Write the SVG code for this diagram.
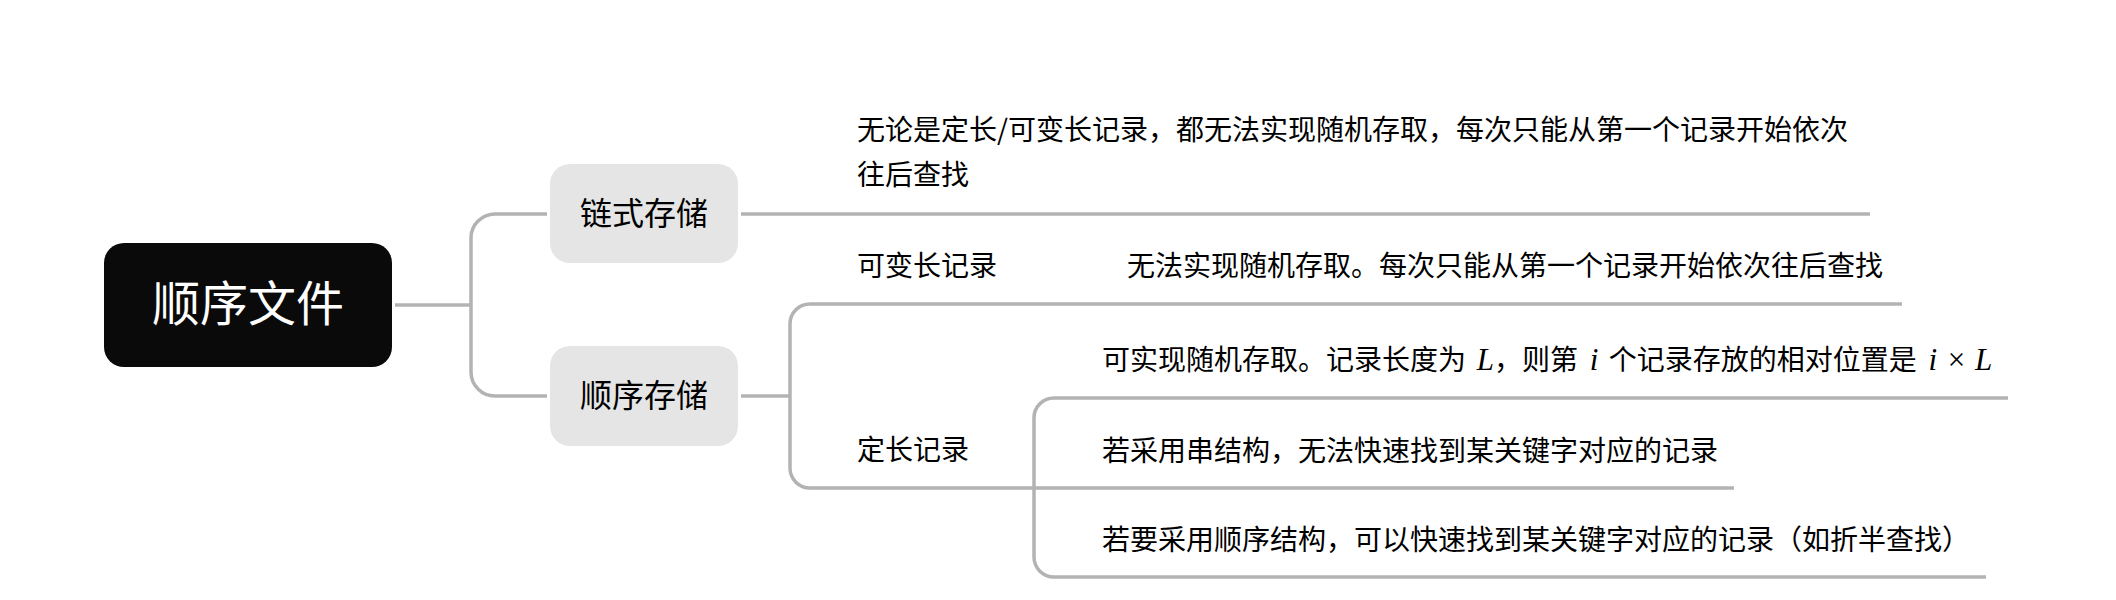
<svg xmlns="http://www.w3.org/2000/svg" width="2116" height="600" viewBox="0 0 2116 600">
<style>
.conn{fill:none;stroke:#b3b3b3;stroke-width:3.5}
.t{font-family:"Noto Sans CJK SC","Noto Sans",sans-serif;font-size:28px;fill:#000}
.m{font-family:"Liberation Serif",serif;font-style:italic;font-size:31px}
.mr{font-family:"Liberation Serif",serif;font-size:31px}
.sub{fill:#e5e5e5}
.subt{font-family:"Noto Sans CJK SC","Noto Sans",sans-serif;font-size:32px;fill:#000;text-anchor:middle}
</style>
<rect width="2116" height="600" fill="#ffffff"/>
<g id="connectors">
<path class="conn" d="M395,305 H471"/>
<path class="conn" d="M547,214 H495 A24,24 0 0 0 471,238 V372 A24,24 0 0 0 495,396 H547"/>
<path class="conn" d="M741,214 H1870"/>
<path class="conn" d="M741,396 H790"/>
<path class="conn" d="M1902,304 H810 A20,20 0 0 0 790,324 V468 A20,20 0 0 0 810,488 H1734"/>
<path class="conn" d="M2008,398 H1054 A20,20 0 0 0 1034,418 V557 A20,20 0 0 0 1054,577 H1986"/>
</g>
<g id="root">
<rect x="104" y="243" width="288" height="124" rx="20" fill="#0a0a0a"/>
<text x="248" y="321" font-family="'Noto Sans CJK SC','Noto Sans',sans-serif" font-size="48" fill="#ffffff" text-anchor="middle">顺序文件</text>
</g>
<g id="chain">
<rect class="sub" x="550" y="164" width="188" height="99" rx="20"/>
<text class="subt" x="644" y="225">链式存储</text>
</g>
<g id="seq">
<rect class="sub" x="550" y="346" width="188" height="100" rx="20"/>
<text class="subt" x="644" y="407">顺序存储</text>
</g>
<g id="chain-desc">
<text class="t" x="857" y="140">无论是定长/可变长记录，都无法实现随机存取，每次只能从第一个记录开始依次</text>
<text class="t" x="857" y="185">往后查找</text>
</g>
<g id="var">
<text class="t" x="857" y="276">可变长记录</text>
</g>
<g id="var-desc">
<text class="t" x="1127" y="276">无法实现随机存取。每次只能从第一个记录开始依次往后查找</text>
</g>
<g id="fixed">
<text class="t" x="857" y="460">定长记录</text>
</g>
<g id="fixed-1">
<text class="t" x="1102" y="370">可实现随机存取。记录长度为<tspan class="m" dx="3"> L</tspan>，则第<tspan class="m" dx="4"> i</tspan><tspan dx="4"> </tspan>个记录存放的相对位置是<tspan class="m" dx="4"> i</tspan><tspan class="mr" dx="3"> × </tspan><tspan class="m" dx="2">L</tspan></text>
</g>
<g id="fixed-2">
<text class="t" x="1102" y="461">若采用串结构，无法快速找到某关键字对应的记录</text>
</g>
<g id="fixed-3">
<text class="t" x="1102" y="550">若要采用顺序结构，可以快速找到某关键字对应的记录（如折半查找）</text>
</g>
</svg>
